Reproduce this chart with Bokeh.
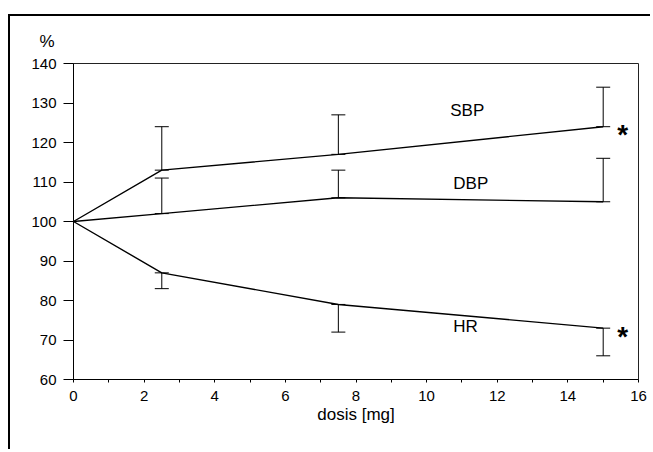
from bokeh.plotting import figure
from bokeh.models import Range1d, Whisker, TeeHead, ColumnDataSource, FixedTicker
from bokeh.core.properties import value
from bokeh.embed import file_html
from bokeh.resources import INLINE

dose = [0, 2.5, 7.5, 15]
sbp = [100, 113, 117, 124]
sbp_err = [100, 124, 127, 134]
dbp = [100, 102, 106, 105]
dbp_err = [100, 111, 113, 116]
hr = [100, 87, 79, 73]
hr_err = [100, 83, 72, 66]

series_names = ["SBP", "DBP", "HR"]
label_x = [11.15, 11.25, 11.1]
label_y = [128.0, 109.5, 73.3]
star_series = ["SBP", "HR"]

x_ticks = [0, 2, 4, 6, 8, 10, 12, 14, 16]
y_ticks = [60, 70, 80, 90, 100, 110, 120, 130, 140]

FONT = "Liberation Sans"

p = figure(width=642, height=435, x_range=Range1d(0, 16), y_range=Range1d(60, 140),
           output_backend="svg", toolbar_location=None, title="%",
           min_border_left=63, min_border_right=14, min_border_top=47, min_border_bottom=72)
p.styles = {"border-top": "2px solid black", "border-left": "2px solid black",
            "margin-top": "14px", "margin-left": "8px"}

p.title.text_font = FONT
p.title.text_font_size = "17px"
p.title.text_font_style = "normal"
p.title.text_color = "black"
p.title.align = "left"
p.title.offset = -34
p.title.standoff = 26

p.xgrid.visible = False
p.ygrid.visible = False
p.outline_line_color = "#222222"
p.outline_line_width = 1
p.background_fill_color = "white"
p.border_fill_color = "white"

xa = p.xaxis[0]
xa.ticker = FixedTicker(ticks=x_ticks, minor_ticks=[1, 3, 5, 7, 9, 11, 13, 15])
xa.axis_label = "dosis [mg]"
xa.axis_label_text_font = FONT
xa.axis_label_text_font_style = "normal"
xa.axis_label_text_font_size = "17px"
xa.axis_label_text_color = "black"
xa.axis_label_standoff = 1
xa.major_label_text_font = FONT
xa.major_label_text_font_size = "15px"
xa.major_label_text_color = "black"
xa.major_label_standoff = 8
xa.major_tick_out = 3
xa.major_tick_in = 0
xa.minor_tick_out = 3
xa.minor_tick_in = 0
xa.axis_line_color = "black"
xa.major_tick_line_color = "black"
xa.minor_tick_line_color = "black"

ya = p.yaxis[0]
ya.ticker = FixedTicker(ticks=y_ticks, minor_ticks=[])
ya.major_label_text_font = FONT
ya.major_label_text_font_size = "15px"
ya.major_label_text_color = "black"
ya.major_label_standoff = 7
ya.major_tick_out = 10
ya.major_tick_in = 0
ya.axis_line_color = "black"
ya.major_tick_line_color = "black"

vals = {"SBP": (sbp, sbp_err), "DBP": (dbp, dbp_err), "HR": (hr, hr_err)}
for name in series_names:
    v, e = vals[name]
    p.line(dose, v, line_color="black", line_width=1.4)
    lo = [min(a, b) for a, b in zip(v, e)]
    up = [max(a, b) for a, b in zip(v, e)]
    src = ColumnDataSource(dict(x=dose[1:], lower=lo[1:], upper=up[1:]))
    p.add_layout(Whisker(source=src, base="x", lower="lower", upper="upper",
                         line_color="black", line_width=1,
                         upper_head=TeeHead(size=14, line_color="black", line_width=1),
                         lower_head=TeeHead(size=14, line_color="black", line_width=1)))

p.text(x=label_x, y=label_y, text=series_names, text_font=value(FONT),
       text_font_size="17px", text_align="center", text_baseline="middle", text_color="black")

star_x = [15.55 for _ in star_series]
star_y = [vals[s][0][-1] for s in star_series]
p.text(x=star_x, y=star_y, text=["*" for _ in star_series], text_font=value(FONT),
       text_font_size="28px", text_font_style="bold", text_align="center",
       text_baseline="middle", y_offset=8, text_color="black")

open("out.html", "w").write(file_html(p, INLINE))
